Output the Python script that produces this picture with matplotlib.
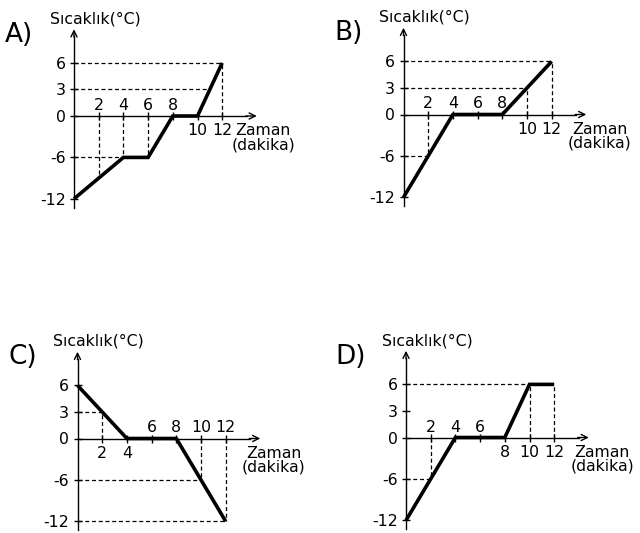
import numpy as np
import matplotlib
matplotlib.use("Agg")
import matplotlib.pyplot as plt

plt.rcParams['font.family'] = ['DejaVu Sans']

# ---- data ----
panel_letters = ["A)", "B)", "C)", "D)"]
y_ticks = [6, 3, 0, -6, -12]
x_ticks = [2, 4, 6, 8, 10, 12]

A_x = [0, 4, 6, 8, 10, 12]
A_y = [-12, -6, -6, 0, 0, 6]
B_x = [0, 4, 8, 12]
B_y = [-12, 0, 0, 6]
C_x = [0, 4, 8, 12]
C_y = [6, 0, 0, -12]
D_x = [0, 4, 8, 10, 12]
D_y = [-12, 0, 0, 6, 6]

# guide points on each curve: horizontal dashed to these points / vertical dashed to these points
A_hguide = [(12, 6), (11, 3), (4, -6)]
A_vguide = [(2, -9), (4, -6), (6, -6), (12, 6)]
B_hguide = [(12, 6), (10, 3), (2, -6)]
B_vguide = [(12, 6), (10, 3), (2, -6)]
C_hguide = [(2, 3), (10, -6), (12, -12)]
C_vguide = [(2, 3), (10, -6), (12, -12)]
D_hguide = [(10, 6), (2, -6)]
D_vguide = [(10, 6), (12, 6), (2, -6)]

A_above = [2, 4, 6, 8]
B_above = [2, 4, 6, 8]
C_above = [6, 8, 10, 12]
D_above = [2, 4, 6]

y_label = "Sıcaklık(°C)"
x_label = "Zaman\n(dakika)"

# ---- layout ----
W, H = 640, 533
fig = plt.figure(figsize=(W / 100, H / 100), dpi=100)

K = 0.78          # compression of the negative half of the y axis
PX_X = 12.35      # pixels per minute
PX_Y = 8.85       # pixels per (scaled) degree
XL = (-1.0, 15.5)
YL = (-14.0, 10.5)


def fwd(y):
    y = np.asarray(y, dtype=float)
    return np.where(y >= 0, y, y * K)


def inv(f):
    f = np.asarray(f, dtype=float)
    return np.where(f >= 0, f, f / K)


origins = [(74, 116), (403.5, 114.5), (77.5, 438.5), (406, 437.5)]
xlabel_dx = [18, 25, 25, 25]
panels = [
    (A_x, A_y, A_hguide, A_vguide, A_above),
    (B_x, B_y, B_hguide, B_vguide, B_above),
    (C_x, C_y, C_hguide, C_vguide, C_above),
    (D_x, D_y, D_hguide, D_vguide, D_above),
]

FS = 11.3
dash = (0, (3.2, 2.2))

for (ox, oy), letter, dx, (xs, ys, hg, vg, above) in zip(origins, panel_letters, xlabel_dx, panels):
    left = ox + XL[0] * PX_X
    width = (XL[1] - XL[0]) * PX_X
    ftop = float(fwd(YL[1]))
    fbot = float(fwd(YL[0]))
    top_px = oy - ftop * PX_Y
    bot_px = oy - fbot * PX_Y
    ax = fig.add_axes([left / W, (H - bot_px) / H, width / W, (bot_px - top_px) / H])
    ax.set_yscale('function', functions=(fwd, inv))
    ax.set_xlim(*XL)
    ax.set_ylim(*YL)
    ax.patch.set_visible(False)

    for s in ['top', 'right']:
        ax.spines[s].set_visible(False)
    ax.spines['left'].set_position(('data', 0))
    ax.spines['bottom'].set_position(('data', 0))
    ax.spines['left'].set_bounds(-13.3, 9.0)
    ax.spines['bottom'].set_bounds(0, 14.0)
    ax.spines['left'].set_linewidth(1.0)
    ax.spines['bottom'].set_linewidth(1.0)

    ax.set_xticks(x_ticks)
    ax.set_yticks(y_ticks)
    ax.set_yticklabels([str(v) for v in y_ticks])
    ax.tick_params(axis='both', direction='inout', length=6, width=1.0, labelbottom=False,
                   labelsize=FS, pad=3)
    ax.yaxis.set_minor_locator(matplotlib.ticker.NullLocator())
    ax.xaxis.set_minor_locator(matplotlib.ticker.NullLocator())

    # arrows
    ax.annotate('', xy=(14.8, 0), xytext=(13.9, 0),
                arrowprops=dict(arrowstyle='->', lw=1.0, shrinkA=0, shrinkB=0, mutation_scale=11))
    ax.annotate('', xy=(0, 9.8), xytext=(0, 8.9),
                arrowprops=dict(arrowstyle='->', lw=1.0, shrinkA=0, shrinkB=0, mutation_scale=11))

    # dashed guides
    for (gx, gy) in hg:
        ax.plot([0, gx], [gy, gy], color='black', lw=0.9, linestyle=dash)
    for (gx, gy) in vg:
        ax.plot([gx, gx], [0, gy], color='black', lw=0.9, linestyle=dash)

    # main line
    ax.plot(xs, ys, color='black', lw=2.6, solid_joinstyle='miter', solid_capstyle='butt', zorder=5)

    # x tick labels
    for t in x_ticks:
        if t in above:
            ax.annotate(str(t), xy=(t, 0), xytext=(0, 6), textcoords='offset pixels',
                        ha='center', va='baseline', fontsize=FS)
        else:
            ax.annotate(str(t), xy=(t, 0), xytext=(0, -7), textcoords='offset pixels',
                        ha='center', va='top', fontsize=FS)

    # axis titles
    ax.annotate(x_label, xy=(13.85, 0), xytext=(dx, -7), textcoords='offset pixels',
                ha='center', va='top', fontsize=FS, linespacing=0.95)
    ax.annotate(y_label, xy=(0, 0), xytext=(21, 97), textcoords='offset pixels',
                ha='center', va='center', fontsize=FS)
    ax.annotate(letter, xy=(0, 0), xytext=(-55, 81), textcoords='offset pixels',
                ha='center', va='center', fontsize=19)

fig.savefig('out.png', dpi=100)
